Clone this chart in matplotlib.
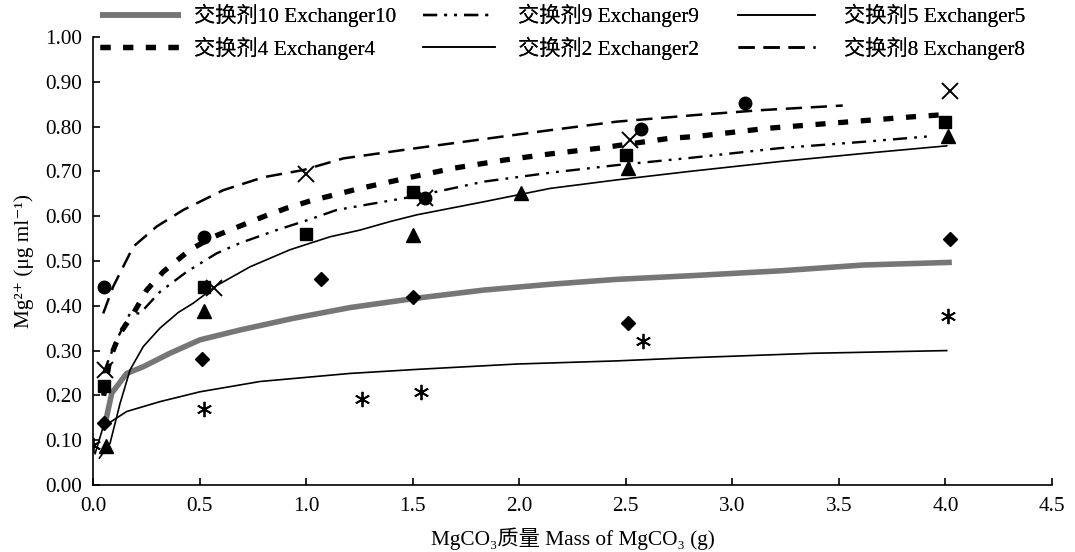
import matplotlib
matplotlib.use("Agg")
import matplotlib.pyplot as plt

# ---------------------------------------------------------------------------
# Data
# ---------------------------------------------------------------------------

# measured points
pts_x8 = [0.05, 0.52, 1.56, 2.57, 3.06]
pts_y8 = [0.443, 0.553, 0.640, 0.794, 0.852]

pts_x4 = [0.05, 0.52, 1.00, 1.50, 2.50, 4.00]
pts_y4 = [0.222, 0.443, 0.560, 0.655, 0.737, 0.811]

pts_x9 = [0.056, 0.57, 1.00, 1.56, 2.52, 4.02]
pts_y9 = [0.257, 0.439, 0.695, 0.640, 0.769, 0.879]

pts_x5 = [0.06, 0.52, 1.50, 2.01, 2.51, 4.01]
pts_y5 = [0.087, 0.388, 0.558, 0.651, 0.707, 0.779]

pts_x10 = [0.05, 0.51, 1.07, 1.50, 2.51, 4.02]
pts_y10 = [0.138, 0.281, 0.459, 0.420, 0.361, 0.549]

pts_x2 = [0.0, 0.52, 1.26, 1.54, 2.58, 4.01]
pts_y2 = [0.089, 0.170, 0.191, 0.208, 0.321, 0.377]

# trend curves
fit_x8 = [0.048, 0.095, 0.189, 0.299, 0.424, 0.611, 0.80, 0.987, 1.175,
          1.519, 1.832, 2.145, 2.458, 2.833, 3.146, 3.518]
fit_y8 = [0.383, 0.443, 0.532, 0.577, 0.614, 0.658, 0.687, 0.703, 0.729,
          0.752, 0.772, 0.792, 0.811, 0.826, 0.837, 0.847]

fit_x4 = [0.05, 0.08, 0.127, 0.185, 0.252, 0.33, 0.455, 0.565, 0.69, 0.80,
          0.909, 1.026, 1.128, 1.253, 1.472, 1.691, 1.926, 2.145, 2.379,
          2.708, 2.833, 3.161, 3.505, 3.849, 3.975]
fit_y4 = [0.199, 0.283, 0.339, 0.379, 0.435, 0.476, 0.525, 0.554, 0.578, 0.599,
          0.618, 0.635, 0.647, 0.662, 0.685, 0.707, 0.725, 0.739, 0.752,
          0.774, 0.778, 0.796, 0.809, 0.822, 0.826]

fit_x9 = [0.048, 0.111, 0.174, 0.221, 0.314, 0.44, 0.58, 0.69, 0.862, 1.018,
          1.144, 1.30, 1.519, 1.832, 2.145, 2.458, 2.80, 3.224, 3.615, 3.943]
fit_y9 = [0.249, 0.324, 0.383, 0.383, 0.431, 0.476, 0.517, 0.540, 0.569, 0.593,
          0.614, 0.627, 0.645, 0.677, 0.697, 0.714, 0.730, 0.752, 0.766, 0.779]

fit_x5 = [0.03, 0.08, 0.127, 0.174, 0.236, 0.314, 0.40, 0.471, 0.58, 0.737,
          0.924, 1.112, 1.253, 1.394, 1.519, 1.832, 2.145, 2.458, 2.80,
          3.224, 3.615, 4.006]
fit_y5 = [0.060, 0.093, 0.182, 0.257, 0.309, 0.350, 0.385, 0.406, 0.445, 0.487,
          0.525, 0.554, 0.569, 0.588, 0.603, 0.632, 0.662, 0.681, 0.700,
          0.722, 0.740, 0.757]

fit_x10 = [0.05, 0.064, 0.088, 0.158, 0.236, 0.361, 0.502, 0.69, 0.94, 1.206,
           1.519, 1.832, 2.145, 2.458, 2.80, 3.224, 3.615, 4.03]
fit_y10 = [0.130, 0.152, 0.205, 0.249, 0.264, 0.294, 0.324, 0.346, 0.372, 0.396,
           0.417, 0.435, 0.448, 0.459, 0.467, 0.478, 0.491, 0.497]

fit_x2 = [0.01, 0.048, 0.158, 0.314, 0.502, 0.784, 1.206, 1.519, 1.988,
          2.458, 2.80, 3.38, 4.006]
fit_y2 = [0.070, 0.130, 0.164, 0.186, 0.208, 0.231, 0.249, 0.258, 0.270,
          0.277, 0.284, 0.294, 0.300]

labels = {
    "10": "交换剂10 Exchanger10",
    "9": "交换剂9 Exchanger9",
    "5": "交换剂5 Exchanger5",
    "4": "交换剂4 Exchanger4",
    "2": "交换剂2 Exchanger2",
    "8": "交换剂8 Exchanger8",
}

x_ticks = [0.0, 0.5, 1.0, 1.5, 2.0, 2.5, 3.0, 3.5, 4.0, 4.5]
y_ticks = [0.0, 0.1, 0.2, 0.3, 0.4, 0.5, 0.6, 0.7, 0.8, 0.9, 1.0]

# ---------------------------------------------------------------------------
# Figure
# ---------------------------------------------------------------------------

FONT = ["Liberation Serif", "Noto Sans CJK SC", "DejaVu Serif"]
FS = 15.3
plt.rcParams["font.family"] = FONT
plt.rcParams["font.size"] = FS

fig = plt.figure(figsize=(10.75, 5.52), dpi=100)
ax = fig.add_axes([0.0865, 0.1214, 0.8921, 0.8116])

h10, = ax.plot(fit_x10, fit_y10, color="#767676", lw=4.0, solid_capstyle="butt")
h9, = ax.plot(fit_x9, fit_y9, color="black", lw=1.7,
              linestyle=(0, (6, 3, 1.2, 3, 1.2, 3)))
h5, = ax.plot(fit_x5, fit_y5, color="black", lw=1.2)
h4, = ax.plot(fit_x4, fit_y4, color="black", lw=3.8,
              linestyle=(0, (1.9, 2.4)), dash_capstyle="butt")
h2, = ax.plot(fit_x2, fit_y2, color="black", lw=1.2)
h8, = ax.plot(fit_x8, fit_y8, color="black", lw=1.8,
              linestyle=(0, (6.5, 3.5)))

ax.plot(pts_x8, pts_y8, "o", color="black", ms=9, ls="none")
ax.plot(pts_x4, pts_y4, "s", color="black", ms=8.5, ls="none")
ax.plot(pts_x9, pts_y9, "x", color="black", ms=11, mew=1.4, ls="none")
ax.plot(pts_x5, pts_y5, "^", color="black", ms=10, ls="none")
ax.plot(pts_x10, pts_y10, "D", color="black", ms=7.5, ls="none")
ax.plot(pts_x2, pts_y2, marker=(6, 2, 0), color="black", ms=11, mew=1.3,
        ls="none")

ax.set_xlim(0, 4.5)
ax.set_ylim(0, 1.0)
ax.set_xticks(x_ticks)
ax.set_yticks(y_ticks)
ax.set_xticklabels([f"{v:.1f}" for v in x_ticks])
ax.set_yticklabels([f"{v:.2f}" for v in y_ticks])
ax.tick_params(axis="both", direction="in", length=5, width=1.2, labelsize=FS)
ax.tick_params(axis="x", pad=9)
ax.tick_params(axis="y", pad=8)
ax.spines["top"].set_visible(False)
ax.spines["right"].set_visible(False)
for side in ("left", "bottom"):
    ax.spines[side].set_linewidth(1.2)

ax.set_xlabel("MgCO₃质量 Mass of MgCO₃ (g)", fontsize=FS, labelpad=8)
ax.set_ylabel("Mg²⁺ (μg ml⁻¹)", fontsize=FS, labelpad=8)

# legend: three columns placed separately, two rows each
columns = [
    ([h10, h4], ["10", "4"], 100, 3.8, 0.6),
    ([h9, h2], ["9", "2"], 423, 3.4, 1.05),
    ([h5, h8], ["5", "8"], 738, 3.6, 1.4),
]
for hs, keys, x_px, hlen, pad in columns:
    leg = fig.legend(hs, [labels[k] for k in keys], loc="upper left",
                     bbox_to_anchor=(x_px / 1075, 0.993), frameon=False,
                     fontsize=FS, handlelength=hlen, handletextpad=pad,
                     labelspacing=0.45, borderpad=0, borderaxespad=0)
    fig.add_artist(leg)

fig.savefig("out.png", dpi=100)
